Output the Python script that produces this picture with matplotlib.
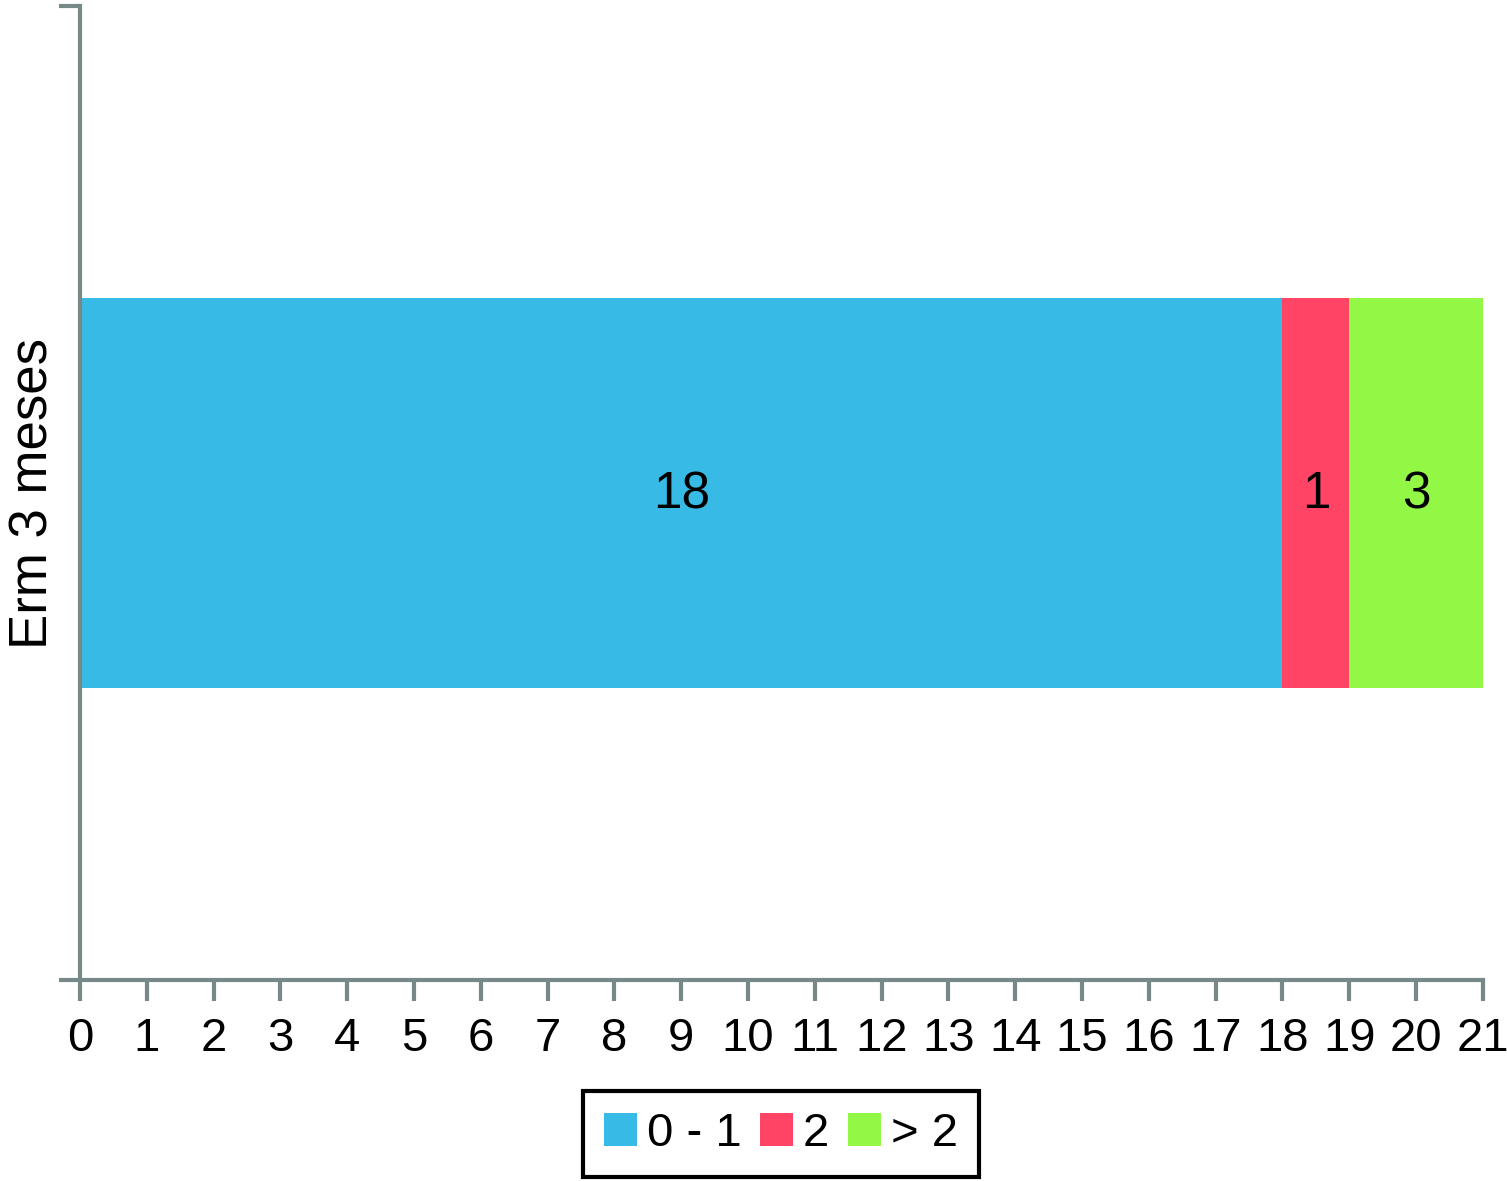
import matplotlib.pyplot as plt
import numpy as np

plt.rcParams['font.family'] = ['Liberation Sans', 'DejaVu Sans']

category = 'Erm 3 meses'
series_names = ['0 - 1', '2', '> 2']
series_values = [18, 1, 3]
colors = ['#38BAE6', '#FF4466', '#92F745']
x_ticks = list(range(0, 22))
x_max = 21

fig = plt.figure(figsize=(15.07, 11.81), dpi=100)
ax = fig.add_axes([0.0531, 0.1702, 0.9309, 0.8247])

left = 0
handles = []
for name, val, col in zip(series_names, series_values, colors):
    b = ax.barh(0, val, left=left, height=0.4, color=col, label=name)
    # label sits in the middle of the visible part of the segment
    right = min(left + val, x_max)
    ax.text((left + right) / 2, -0.002, str(val), ha='center', va='center', fontsize=37)
    handles.append(b)
    left += val

ax.set_xlim(0, x_max)
ax.set_ylim(-0.5, 0.5)
ax.set_xticks(x_ticks)
ax.set_xticklabels([str(t) for t in x_ticks], fontsize=34)
ax.set_yticks([-0.5, 0.5])
ax.set_yticklabels([])
ax.set_ylabel(category, fontsize=38)
ax.yaxis.label.set_va('center')
ax.yaxis.set_label_coords(-0.033, 0.5)

spine_col = '#778888'
for s in ['top', 'right']:
    ax.spines[s].set_visible(False)
for s in ['left', 'bottom']:
    ax.spines[s].set_color(spine_col)
    ax.spines[s].set_linewidth(3)
ax.tick_params(axis='both', color=spine_col, width=3, length=15, direction='out')
ax.tick_params(axis='x', pad=12)

leg = fig.legend(handles=handles, labels=series_names, loc='center',
                 bbox_to_anchor=(781 / 1507, 1 - 1134 / 1181), ncol=3,
                 fontsize=34, frameon=True, fancybox=False, edgecolor='black',
                 framealpha=1, handlelength=0.7, handleheight=0.7,
                 handletextpad=0.2, columnspacing=0.4, borderpad=0.45)
leg.get_frame().set_linewidth(3)

fig.savefig('out.png', dpi=100)
